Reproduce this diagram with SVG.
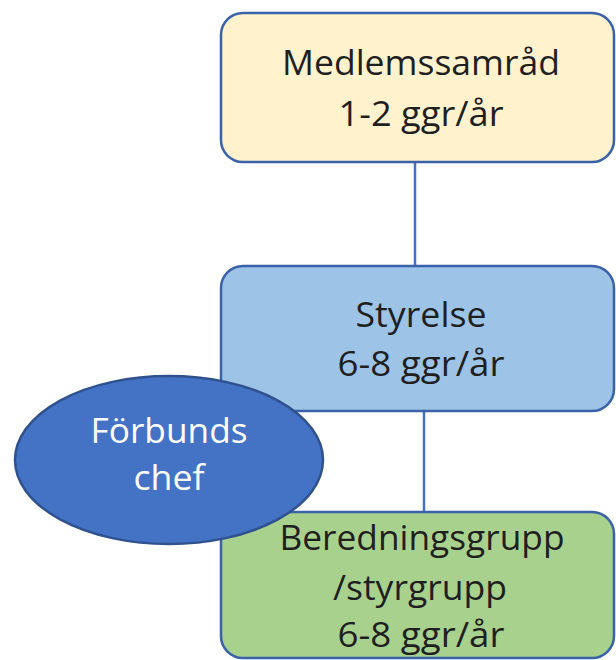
<svg xmlns="http://www.w3.org/2000/svg" width="616" height="660" viewBox="0 0 616 660">
<style>
.box{stroke:#3a62a8;stroke-width:2.5}
.t{font-family:"Open Sans","Noto Sans",sans-serif;font-size:35px;fill:#1f1f1f;text-anchor:middle}
.w{fill:#ffffff}
.c{stroke:#4472c4;stroke-width:2.5;fill:none}
</style>
<rect width="616" height="660" fill="#ffffff"/>
<g id="connectors">
<line class="c" x1="415" y1="162" x2="415" y2="266"/>
<line class="c" x1="424" y1="411" x2="424" y2="512"/>
</g>
<g id="medlemssamrad">
<rect class="box" x="221" y="13" width="393" height="149" rx="22" fill="#fff2cc"/>
<text class="t" x="421" y="75" textLength="278" lengthAdjust="spacingAndGlyphs">Medlemssamråd</text>
<text class="t" x="421" y="126" textLength="165" lengthAdjust="spacingAndGlyphs">1-2 ggr/år</text>
</g>
<g id="styrelse">
<rect class="box" x="221" y="266" width="393" height="145" rx="22" fill="#9dc3e6"/>
<text class="t" x="421" y="327" textLength="131" lengthAdjust="spacingAndGlyphs">Styrelse</text>
<text class="t" x="421" y="376" textLength="167" lengthAdjust="spacingAndGlyphs">6-8 ggr/år</text>
</g>
<g id="beredningsgrupp">
<rect class="box" x="221" y="512" width="393" height="146" rx="22" fill="#a9d18e"/>
<text class="t" x="422" y="550" textLength="285" lengthAdjust="spacingAndGlyphs">Beredningsgrupp</text>
<text class="t" x="420" y="600" textLength="174" lengthAdjust="spacingAndGlyphs">/styrgrupp</text>
<text class="t" x="421" y="647" textLength="167" lengthAdjust="spacingAndGlyphs">6-8 ggr/år</text>
</g>
<g id="forbundschef">
<ellipse cx="169" cy="460" rx="154" ry="84" fill="#4472c4" stroke="#2f528f" stroke-width="2.5"/>
<text class="t w" x="169" y="443" textLength="157" lengthAdjust="spacingAndGlyphs">Förbunds</text>
<text class="t w" x="169" y="490" textLength="71" lengthAdjust="spacingAndGlyphs">chef</text>
</g>
</svg>
